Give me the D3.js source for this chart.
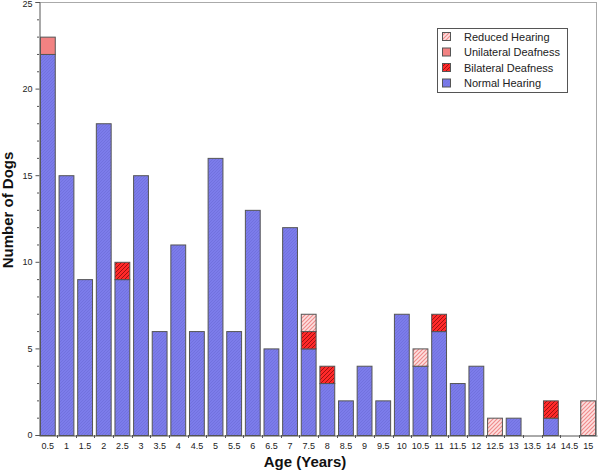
<!DOCTYPE html>
<html><head><meta charset="utf-8">
<script src="https://cdn.jsdelivr.net/npm/d3@7"></script>
<style>
html,body{margin:0;padding:0;background:#fff;}
svg{display:block;font-family:"Liberation Sans",Arial,sans-serif;}
</style></head>
<body>
<svg id="chart" width="600" height="473"></svg>
<script>
const ages = ["0.5","1","1.5","2","2.5","3","3.5","4","4.5","5","5.5","6","6.5","7","7.5","8","8.5","9","9.5","10","10.5","11","11.5","12","12.5","13","13.5","14","14.5","15"];
const normalHearing     = [22,15,9,18,9,15,6,11,6,16,6,13,5,12,5,3,2,4,2,7,4,6,3,4,0,1,0,1,0,0];
const bilateralDeafness = [0,0,0,0,1,0,0,0,0,0,0,0,0,0,1,1,0,0,0,0,0,1,0,0,0,0,0,1,0,0];
const unilateralDeafness= [1,0,0,0,0,0,0,0,0,0,0,0,0,0,0,0,0,0,0,0,0,0,0,0,0,0,0,0,0,0];
const reducedHearing    = [0,0,0,0,0,0,0,0,0,0,0,0,0,0,1,0,0,0,0,0,1,0,0,0,1,0,0,0,0,2];
const seriesNames = ["Normal Hearing","Bilateral Deafness","Unilateral Deafness","Reduced Hearing"];
const legendOrder = ["Reduced Hearing","Unilateral Deafness","Bilateral Deafness","Normal Hearing"];
const yTicks = [0,5,10,15,20,25];

(function(){
const svg = d3.select("#chart");
const defs = svg.append("defs");
function hatch(id, bg, stroke, w, sz){
  const p = defs.append("pattern").attr("id",id).attr("patternUnits","userSpaceOnUse")
    .attr("width",sz).attr("height",sz);
  p.append("rect").attr("width",sz).attr("height",sz).attr("fill",bg);
  p.append("path").attr("d",`M0,${sz} L${sz},0 M${-sz/2},${sz/2} L${sz/2},${-sz/2} M${sz/2},${sz*1.5} L${sz*1.5},${sz/2}`)
    .attr("stroke",stroke).attr("stroke-width",w);
}
hatch("pNormal","#7c7ceb","#7272de",1,3);
hatch("pBilateral","#ff2a2a","#a01010",1,4);
hatch("pReduced","#fde0e0","#f08c8c",1.2,4);
const fills = {
  "Normal Hearing":"url(#pNormal)",
  "Bilateral Deafness":"url(#pBilateral)",
  "Unilateral Deafness":"#f28282",
  "Reduced Hearing":"url(#pReduced)"
};

const pl=39, pr=597, pt=2, pb=435;
const x = d3.scaleBand().domain(ages).range([pl,pr]).paddingInner(0.15).paddingOuter(0.05);
const y = d3.scaleLinear().domain([0,25]).range([pb,pt]);

const rows = ages.map((a,i)=>({age:a,
  "Normal Hearing":normalHearing[i],
  "Bilateral Deafness":bilateralDeafness[i],
  "Unilateral Deafness":unilateralDeafness[i],
  "Reduced Hearing":reducedHearing[i]}));
const stacked = d3.stack().keys(seriesNames)(rows);

svg.append("line").attr("x1",pl).attr("x2",pr).attr("y1",pt+0.5).attr("y2",pt+0.5).attr("stroke","#aaa");
svg.append("line").attr("x1",pr-0.5).attr("x2",pr-0.5).attr("y1",pt).attr("y2",pb).attr("stroke","#aaa");

stacked.forEach(s=>{
  svg.append("g").selectAll("rect").data(s.filter(d=>d[1]-d[0]>0)).join("rect")
    .attr("x",d=>x(d.data.age)+0.5)
    .attr("y",d=>y(d[1])+0.5)
    .attr("width",x.bandwidth()-1)
    .attr("height",d=>y(d[0])-y(d[1]))
    .attr("fill",fills[s.key])
    .attr("stroke","#555").attr("stroke-width",1);
});

const yAxis = d3.axisLeft(y).tickValues(yTicks).tickSize(4).tickPadding(3);
const gy = svg.append("g").attr("transform",`translate(${pl+0.5},0)`).call(yAxis);
gy.select(".domain").attr("stroke","#555");
gy.selectAll(".tick line").attr("stroke","#555");
gy.selectAll("text").attr("font-size",9).attr("fill","#222").attr("font-family","Liberation Sans, Arial, sans-serif");
gy.selectAll(".tick").filter(d=>d===25).select("text").attr("y",2);
const yMinor = d3.range(0,26).filter(v=>v%5!==0);
svg.append("g").selectAll("line").data(yMinor).join("line")
  .attr("x1",pl-2).attr("x2",pl).attr("y1",d=>y(d)+0.5).attr("y2",d=>y(d)+0.5).attr("stroke","#555");

const xAxis = d3.axisBottom(x).tickSize(0).tickPadding(7);
const gx = svg.append("g").attr("transform",`translate(0,${pb+0.5})`).call(xAxis);
gx.select(".domain").attr("stroke","#555");
gx.selectAll("text").attr("font-size",9).attr("fill","#222").attr("font-family","Liberation Sans, Arial, sans-serif");
const step = x.step();
svg.append("g").selectAll("line").data(ages.slice(1)).join("line")
  .attr("x1",d=>Math.round(x(d)-step*x.paddingInner()/2)+0.5)
  .attr("x2",d=>Math.round(x(d)-step*x.paddingInner()/2)+0.5)
  .attr("y1",pb).attr("y2",pb+3).attr("stroke","#555");

svg.append("text").attr("x",305).attr("y",467).attr("text-anchor","middle")
  .attr("font-size",15).attr("font-weight","bold").attr("fill","#111").text("Age (Years)");
svg.append("text").attr("transform","translate(13,210) rotate(-90)").attr("text-anchor","middle")
  .attr("font-size",15).attr("font-weight","bold").attr("fill","#111").text("Number of Dogs");

const lg = svg.append("g").attr("transform","translate(437,28)");
lg.append("rect").attr("x",0.5).attr("y",0.5).attr("width",130).attr("height",64)
  .attr("fill","#fff").attr("stroke","#555");
legendOrder.forEach((k,i)=>{
  const row = lg.append("g").attr("transform",`translate(5,${4+i*15.5})`);
  row.append("rect").attr("x",0.5).attr("y",0.5).attr("width",8).attr("height",8)
    .attr("fill",fills[k]).attr("stroke","#555");
  row.append("text").attr("x",22).attr("y",8.5).attr("font-size",11).attr("fill","#222").text(k);
});
})();
</script>
</body></html>
